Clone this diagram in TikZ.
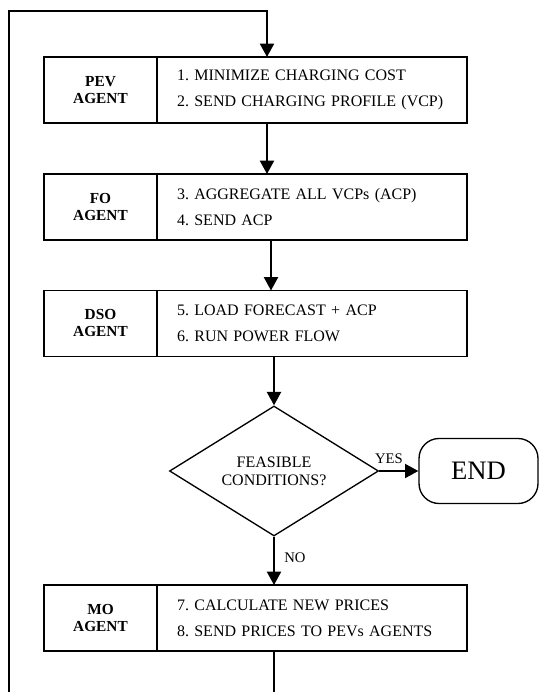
\documentclass[tikz,border=0pt]{standalone}
\usepackage{fontspec}
\setmainfont{Liberation Serif}
\usetikzlibrary{positioning,shapes.geometric,arrows.meta}
\frenchspacing

\begin{document}
\begin{tikzpicture}[x=0.75pt, y=0.75pt,
        agent/.style={draw, line width=1.1pt, minimum width=84.75pt, minimum height=49.5pt,
            outer sep=0pt, inner sep=2pt, align=center,
            font=\bfseries\fontsize{11.5}{12.75}\selectfont},
        steps/.style={draw, line width=1.1pt, minimum width=232.5pt, minimum height=49.5pt,
            outer sep=0pt, inner xsep=15pt, text width=202.5pt, align=left,
            font=\fontsize{12}{19.5}\selectfont},
        decision/.style={draw, diamond, aspect=1.6, line width=1pt, minimum width=156.75pt,
            minimum height=97.5pt, inner sep=0pt, align=center,
            font=\fontsize{12}{13.5}\selectfont},
        terminal/.style={draw, rounded corners=15pt, line width=1pt, minimum width=89.25pt,
            minimum height=48.75pt, font=\fontsize{20}{22}\selectfont},
        flow/.style={line width=1.5pt, -{Triangle[width=10.5pt,length=10pt]}},
        tag/.style={font=\fontsize{11}{12}\selectfont, inner sep=2pt}]
    \useasboundingbox (0,0) rectangle (539,692);
    \clip (0,0) rectangle (539,692);

    % agents and their steps
    \node[agent] (pev) at (100.5,602) {PEV\\AGENT};
    \node[steps, right=0pt of pev] (pevsteps) {1. MINIMIZE CHARGING COST\\2. SEND CHARGING PROFILE (VCP)};

    \node[agent] (fo) at (100.5,485) {FO\\AGENT};
    \node[steps, right=0pt of fo] (fosteps) {3. AGGREGATE ALL VCPs (ACP)\\4. SEND ACP};

    \node[agent] (dso) at (100.5,368.5) {DSO\\AGENT};
    \node[steps, right=0pt of dso] (dsosteps) {5. LOAD FORECAST + ACP\\6. RUN POWER FLOW};

    \node[decision] (check) at (274,221) {FEASIBLE\\CONDITIONS?};
    \node[terminal] (end) at (478.5,221) {END};

    \node[agent] (mo) at (100.5,74) {MO\\AGENT};
    \node[steps, right=0pt of mo] (mosteps) {7. CALCULATE NEW PRICES\\8. SEND PRICES TO PEVs AGENTS};

    % arrow columns and the return loop
    \coordinate (colA) at (267,681);
    \coordinate (colB) at (271,0);
    \coordinate (loopTL) at (9,681);
    \coordinate (loopBL) at (9,-20);

    \draw[flow] (pevsteps.south -| colA) -- (fosteps.north -| colA);
    \draw[flow] (fosteps.south -| colB) -- (dsosteps.north -| colB);
    \draw[flow] (dsosteps.south -| check) -- (check.north);
    \draw[flow] (check.east) -- node[tag, above, pos=0.25, yshift=3pt] {YES} (end.west);
    \draw[flow] (check.south) -- node[tag, right=5pt, pos=0.43] {NO} (mosteps.north -| check);
    \draw[flow] (mosteps.south -| check) -- (loopBL -| check) -- (loopBL) -- (loopTL) -- (colA)
        -- (pevsteps.north -| colA);
\end{tikzpicture}
\end{document}
